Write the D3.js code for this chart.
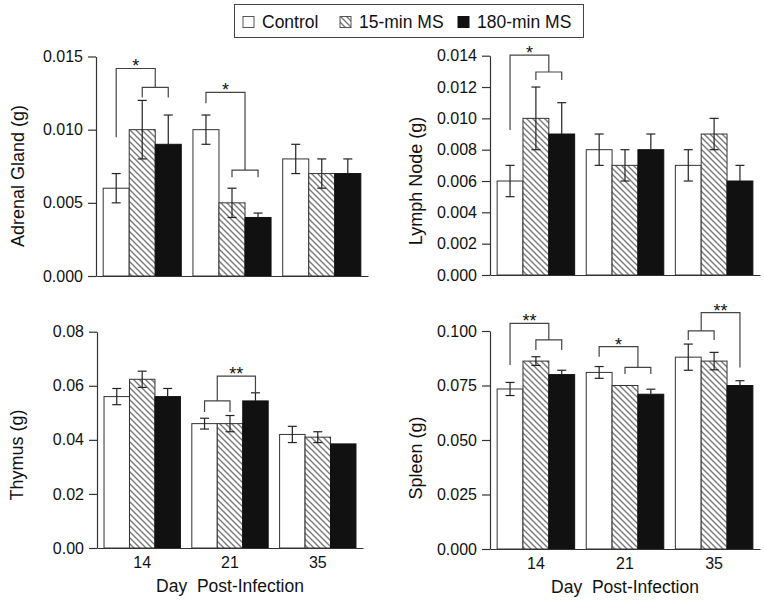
<!DOCTYPE html>
<html><head><meta charset="utf-8">
<script src="https://cdn.jsdelivr.net/npm/d3@7"></script>
<style>
body{margin:0;background:#fff;}
svg{display:block;font-family:"Liberation Sans",Arial,Helvetica,sans-serif;}
</style></head>
<body>
<svg id="chart" width="765" height="602"></svg>
<script>
// ---- data ----
const days = ["14", "21", "35"];
const seriesNames = ["Control", "15-min MS", "180-min MS"];

const adrenalControl = [0.006, 0.010, 0.008];
const adrenal15 = [0.010, 0.005, 0.007];
const adrenal180 = [0.009, 0.004, 0.007];
const adrenalControlErr = [0.001, 0.001, 0.001];
const adrenal15Err = [0.002, 0.001, 0.001];
const adrenal180Err = [0.002, 0.0003, 0.001];
const adrenalTicks = [0, 0.005, 0.010, 0.015];

const lymphControl = [0.006, 0.008, 0.007];
const lymph15 = [0.010, 0.007, 0.009];
const lymph180 = [0.009, 0.008, 0.006];
const lymphControlErr = [0.001, 0.001, 0.001];
const lymph15Err = [0.002, 0.001, 0.001];
const lymph180Err = [0.002, 0.001, 0.001];
const lymphTicks = [0, 0.002, 0.004, 0.006, 0.008, 0.010, 0.012, 0.014];

const thymusControl = [0.056, 0.046, 0.042];
const thymus15 = [0.0624, 0.046, 0.041];
const thymus180 = [0.056, 0.0544, 0.0385];
const thymusControlErr = [0.003, 0.002, 0.003];
const thymus15Err = [0.003, 0.003, 0.002];
const thymus180Err = [0.003, 0.003, 0];
const thymusTicks = [0, 0.02, 0.04, 0.06, 0.08];

const spleenControl = [0.0734, 0.081, 0.088];
const spleen15 = [0.0862, 0.075, 0.0862];
const spleen180 = [0.080, 0.071, 0.075];
const spleenControlErr = [0.003, 0.0027, 0.006];
const spleen15Err = [0.002, 0, 0.004];
const spleen180Err = [0.002, 0.0023, 0.0022];
const spleenTicks = [0, 0.025, 0.050, 0.075, 0.100];

// significance brackets: day, single bar, pair of bars, levels (data units), label
const adrenalSig = [
  {day: "14", single: 0, pair: [1, 2], top: 0.01418, singleEnd: 0.00948, pairTop: 0.01289, pairEnd: 0.0122, label: "*"},
  {day: "21", single: 0, pair: [1, 2], top: 0.01255, singleEnd: 0.0118, pairTop: 0.00723, pairEnd: 0.00675, label: "*"}
];
const lymphSig = [
  {day: "14", single: 0, pair: [1, 2], top: 0.01404, singleEnd: 0.00926, pairTop: 0.01296, pairEnd: 0.01245, label: "*"}
];
const thymusSig = [
  {day: "21", single: 2, pair: [0, 1], top: 0.0636, singleEnd: 0.0573, pairTop: 0.0544, pairEnd: 0.0503, label: "**"}
];
const spleenSig = [
  {day: "14", single: 0, pair: [1, 2], top: 0.1035, singleEnd: 0.0844, pairTop: 0.0959, pairEnd: 0.0913, label: "**"},
  {day: "21", single: 0, pair: [1, 2], top: 0.0928, singleEnd: 0.0882, pairTop: 0.0833, pairEnd: 0.0803, label: "*"},
  {day: "35", single: 2, pair: [0, 1], top: 0.1084, singleEnd: 0.0832, pairTop: 0.1001, pairEnd: 0.0959, label: "**"}
];

// ---- drawing ----
const svg = d3.select("#chart");
const defs = svg.append("defs");
const pat = defs.append("pattern").attr("id", "hatch")
  .attr("patternUnits", "userSpaceOnUse").attr("width", 6).attr("height", 6);
pat.append("rect").attr("width", 6).attr("height", 6).attr("fill", "#fff");
pat.append("path").attr("d", "M-1,-1L7,7M-1,5L1,7M5,-1L7,1")
  .attr("stroke", "#7a7a7a").attr("stroke-width", 1.4);

const fills = ["#fff", "url(#hatch)", "#111"];
const axisColor = "#333";

const panels = [
  {title: "Adrenal Gland (g)", s: [adrenalControl, adrenal15, adrenal180], e: [adrenalControlErr, adrenal15Err, adrenal180Err],
   ticks: adrenalTicks, fmt: ".3f", sig: adrenalSig, x0: 96, x1: 368, yTop: 56.5, yBot: 276, xlab: false, titleX: 18, titleY: 176},
  {title: "Lymph Node (g)", s: [lymphControl, lymph15, lymph180], e: [lymphControlErr, lymph15Err, lymph180Err],
   ticks: lymphTicks, fmt: ".3f", sig: lymphSig, x0: 490, x1: 760, yTop: 55.7, yBot: 275, xlab: false, titleX: 416, titleY: 181},
  {title: "Thymus (g)", s: [thymusControl, thymus15, thymus180], e: [thymusControlErr, thymus15Err, thymus180Err],
   ticks: thymusTicks, fmt: ".2f", sig: thymusSig, x0: 97, x1: 363, yTop: 331.7, yBot: 548, xlab: true, titleX: 17, titleY: 455},
  {title: "Spleen (g)", s: [spleenControl, spleen15, spleen180], e: [spleenControlErr, spleen15Err, spleen180Err],
   ticks: spleenTicks, fmt: ".3f", sig: spleenSig, x0: 490, x1: 760, yTop: 331, yBot: 549, xlab: true, titleX: 416, titleY: 458}
];

panels.forEach(p => {
  const g = svg.append("g");
  const y = d3.scaleLinear().domain([0, d3.max(p.ticks)]).range([p.yBot, p.yTop]);
  const x = d3.scaleBand().domain(days).range([p.x0, p.x1]).paddingInner(0.13).paddingOuter(0.08);
  const xs = d3.scaleBand().domain([0, 1, 2]).range([0, x.bandwidth()]);
  const cx = (day, i) => x(day) + xs(i) + xs.bandwidth() / 2;

  // bars
  seriesNames.forEach((name, si) => {
    const vals = p.s[si], errs = p.e[si];
    const gs = g.append("g");
    gs.selectAll("rect").data(days).join("rect")
      .attr("x", (d) => x(d) + xs(si))
      .attr("y", (d, i) => y(vals[i]))
      .attr("width", xs.bandwidth())
      .attr("height", (d, i) => y(0) - y(vals[i]))
      .attr("fill", fills[si])
      .attr("stroke", si === 2 ? "#111" : "#333")
      .attr("stroke-width", 1);
    // error bars
    days.forEach((d, i) => {
      if (!errs[i]) return;
      const c = cx(d, si);
      const hi = y(vals[i] + errs[i]);
      const lo = si === 2 ? y(vals[i]) : y(vals[i] - errs[i]);
      const col = "#222";
      gs.append("line").attr("x1", c).attr("x2", c).attr("y1", hi).attr("y2", lo).attr("stroke", col).attr("stroke-width", 1.2);
      gs.append("line").attr("x1", c - 4.5).attr("x2", c + 4.5).attr("y1", hi).attr("y2", hi).attr("stroke", col).attr("stroke-width", 1.2);
      if (si !== 2) gs.append("line").attr("x1", c - 4.5).attr("x2", c + 4.5).attr("y1", lo).attr("y2", lo).attr("stroke", col).attr("stroke-width", 1.2);
    });
  });

  // axes
  const ya = g.append("g").attr("transform", `translate(${p.x0},0)`)
    .call(d3.axisLeft(y).tickValues(p.ticks).tickFormat(d3.format(p.fmt)).tickSize(8).tickPadding(5).tickSizeOuter(0));
  ya.select(".domain").attr("stroke", axisColor).attr("stroke-width", 1.2);
  ya.selectAll(".tick line").attr("stroke", axisColor).attr("stroke-width", 1.2);
  ya.selectAll("text").attr("font-size", 16).attr("fill", "#111").attr("font-family", "Liberation Sans, Arial, sans-serif");

  const xa = g.append("g").attr("transform", `translate(0,${p.yBot})`)
    .call(d3.axisBottom(x).tickSize(0).tickPadding(9).tickSizeOuter(0));
  xa.select(".domain").attr("stroke", axisColor).attr("stroke-width", 1.2);
  xa.selectAll("text").attr("font-size", 16).attr("fill", "#111").attr("font-family", "Liberation Sans, Arial, sans-serif")
    .style("display", p.xlab ? null : "none");

  if (p.xlab) {
    g.append("text").attr("x", (p.x0 + p.x1) / 2).attr("y", p.yBot + 44)
      .attr("text-anchor", "middle").attr("font-size", 17.5).attr("fill", "#111")
      .attr("xml:space", "preserve").text("Day  Post-Infection");
  }

  g.append("text").attr("transform", `translate(${p.titleX + 6},${p.titleY}) rotate(-90)`)
    .attr("text-anchor", "middle").attr("font-size", 18).attr("fill", "#111").text(p.title);

  // significance brackets
  const bc = "#444";
  p.sig.forEach(b => {
    const sx = cx(b.day, b.single);
    const pa = cx(b.day, b.pair[0]), pb = cx(b.day, b.pair[1]);
    const pm = (pa + pb) / 2;
    const path = d3.path();
    path.moveTo(sx, y(b.singleEnd)); path.lineTo(sx, y(b.top)); path.lineTo(pm, y(b.top)); path.lineTo(pm, y(b.pairTop));
    path.moveTo(pa, y(b.pairEnd)); path.lineTo(pa, y(b.pairTop)); path.lineTo(pb, y(b.pairTop)); path.lineTo(pb, y(b.pairEnd));
    g.append("path").attr("d", path.toString()).attr("fill", "none").attr("stroke", bc).attr("stroke-width", 1.2);
    g.append("text").attr("x", (sx + pm) / 2).attr("y", y(b.top) + 4)
      .attr("text-anchor", "middle").attr("font-size", 18).attr("fill", "#111").text(b.label);
  });
});

// legend
const lg = svg.append("g");
lg.append("rect").attr("x", 234.5).attr("y", 4.5).attr("width", 349).attr("height", 33)
  .attr("fill", "#fff").attr("stroke", "#444").attr("stroke-width", 1);
const legX = [243, 340, 458];
seriesNames.forEach((n, i) => {
  lg.append("rect").attr("x", legX[i]).attr("y", 16.5).attr("width", 11).attr("height", 11)
    .attr("fill", fills[i]).attr("stroke", i === 2 ? "#111" : "#555").attr("stroke-width", 1);
  lg.append("text").attr("x", legX[i] + 19).attr("y", 28).attr("font-size", 17.5).attr("fill", "#111").text(n);
});
</script>
</body></html>
